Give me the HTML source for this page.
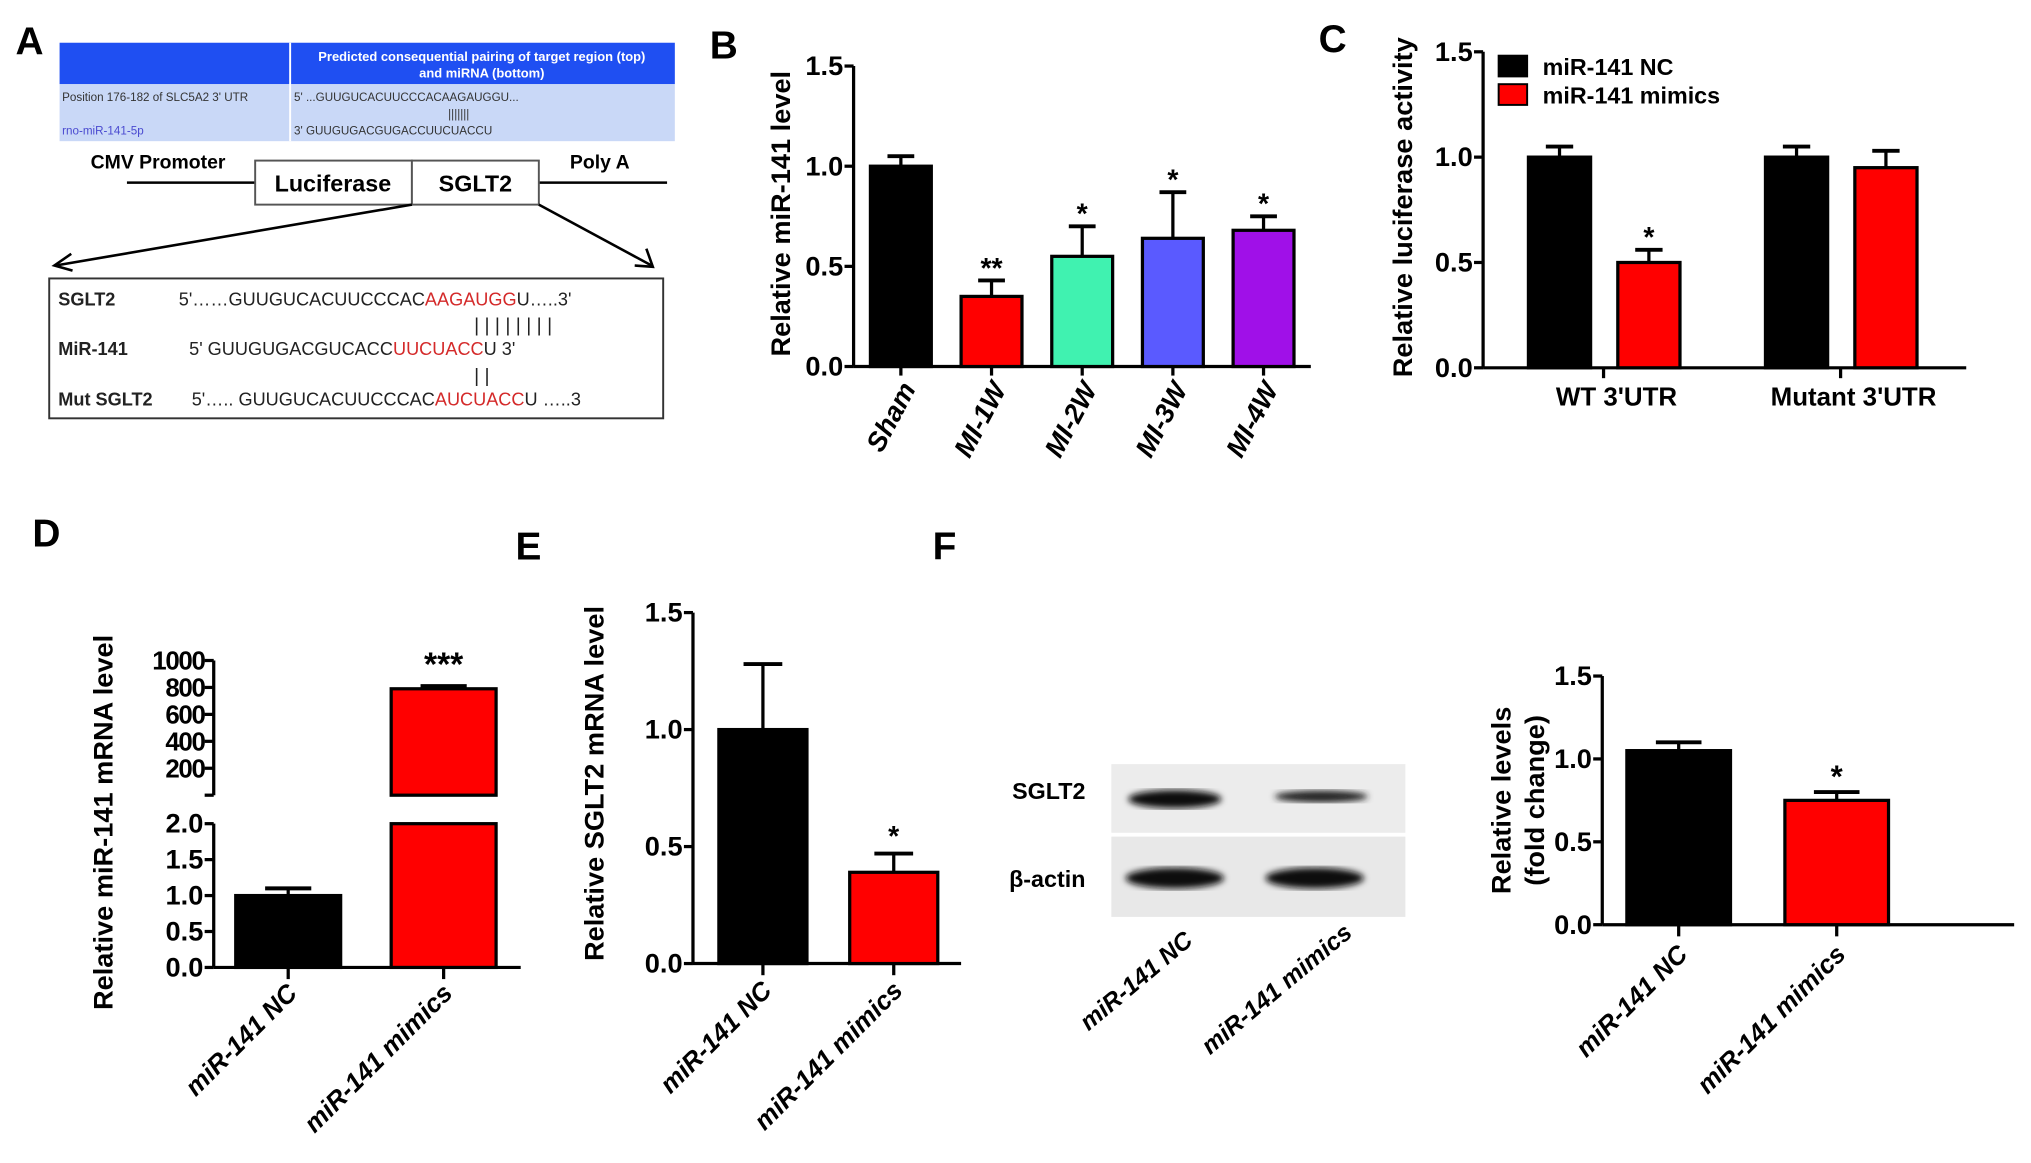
<!DOCTYPE html>
<html><head><meta charset="utf-8"><style>
html,body{margin:0;padding:0;background:#fff;}
svg{display:block;font-family:"Liberation Sans",Arial,sans-serif;}
.b{font-weight:bold;}
</style></head><body>
<svg id="fig" width="2031" height="1163" viewBox="0 0 1568 898" preserveAspectRatio="none" xmlns="http://www.w3.org/2000/svg">
<!-- Panel A -->
<g>
<text x="12" y="42" class="b" font-size="30">A</text>
<rect x="46" y="33" width="475" height="32" fill="#1f4ff2"/>
<rect x="46" y="65" width="475" height="44" fill="#c9d8f7"/>
<line x1="224" y1="33" x2="224" y2="109" stroke="#fff" stroke-width="1.5"/>
<text x="372" y="47" font-size="10" fill="#fff" text-anchor="middle" class="b">Predicted consequential pairing of target region (top)</text>
<text x="372" y="60" font-size="10" fill="#fff" text-anchor="middle" class="b">and miRNA (bottom)</text>
<text x="48" y="78" font-size="9" fill="#333">Position 176-182 of SLC5A2 3' UTR</text>
<text x="227" y="78" font-size="9" fill="#333">5'   ...GUUGUCACUUCCCACAAGAUGGU...</text>
<text x="346" y="91" font-size="9" fill="#333">|||||||</text>
<text x="48" y="104" font-size="9" fill="#4a4ad0">rno-miR-141-5p</text>
<text x="227" y="104" font-size="9" fill="#333">3'          GUUGUGACGUGACCUUCUACCU</text>
<text x="70" y="130" font-size="15" class="b">CMV Promoter</text>
<text x="440" y="130" font-size="15" class="b">Poly A</text>
<line x1="98" y1="141" x2="197" y2="141" stroke="#000" stroke-width="2"/>
<line x1="416" y1="141" x2="515" y2="141" stroke="#000" stroke-width="2"/>
<rect x="197" y="124" width="121" height="34" fill="#fff" stroke="#555" stroke-width="1.5"/>
<rect x="318" y="124" width="98" height="34" fill="#fff" stroke="#555" stroke-width="1.5"/>
<text x="257" y="148" font-size="18" class="b" text-anchor="middle">Luciferase</text>
<text x="367" y="148" font-size="18" class="b" text-anchor="middle">SGLT2</text>
<line x1="318" y1="158" x2="43" y2="205" stroke="#000" stroke-width="2"/>
<polyline points="55,196 42,205 56,209" fill="none" stroke="#000" stroke-width="2"/>
<line x1="416" y1="158" x2="503" y2="205" stroke="#000" stroke-width="2"/>
<polyline points="490,205 504,206 499,192" fill="none" stroke="#000" stroke-width="2"/>
<rect x="38" y="215" width="474" height="108" fill="#fff" stroke="#333" stroke-width="1.5"/>
<g font-size="14" fill="#222">
<text x="45" y="236" class="b">SGLT2</text>
<text x="138" y="236">5'……GUUGUCACUUCCCAC<tspan fill="#d42a2a">AAGAUGG</tspan>U…..3'</text>
<text x="366" y="256" font-size="15">| |  | | | |  | |</text>
<text x="45" y="274" class="b">MiR-141</text>
<text x="146" y="274">5'       GUUGUGACGUCACC<tspan fill="#d42a2a">UUCUACC</tspan>U       3'</text>
<text x="366" y="295" font-size="15">|                  |</text>
<text x="45" y="313" class="b">Mut SGLT2</text>
<text x="148" y="313">5'….. GUUGUCACUUCCCAC<tspan fill="#d42a2a">AUCUACC</tspan>U …..3</text>
</g>
</g>
<text x="548" y="45" class="b" font-size="30">B</text>
<text x="1018" y="40" class="b" font-size="30">C</text>
<text x="25" y="422" class="b" font-size="30">D</text>
<text x="398" y="432" class="b" font-size="30">E</text>
<text x="720" y="432" class="b" font-size="30">F</text>
<!-- Western blot -->
<g>
<defs>
<filter id="blur"><feGaussianBlur stdDeviation="2.5"/></filter>
</defs>
<rect x="858" y="590" width="227" height="53" fill="#ececec"/>
<rect x="858" y="646" width="227" height="62" fill="#e8e8e8"/>
<ellipse cx="907" cy="617" rx="36" ry="7" fill="#111" filter="url(#blur)"/>
<ellipse cx="1020" cy="615" rx="36" ry="4.5" fill="#222" filter="url(#blur)"/>
<ellipse cx="907" cy="678" rx="38" ry="8" fill="#111" filter="url(#blur)"/>
<ellipse cx="1015" cy="678" rx="38" ry="8" fill="#111" filter="url(#blur)"/>
<text x="838" y="617" font-size="18" class="b" text-anchor="end">SGLT2</text>
<text x="838" y="685" font-size="18" class="b" text-anchor="end">β-actin</text>
<text transform="translate(922,728) rotate(-40)" font-size="19" class="b" font-style="italic" text-anchor="end">miR-141 NC</text>
<text transform="translate(1045,722) rotate(-40)" font-size="19" class="b" font-style="italic" text-anchor="end">miR-141 mimics</text>
</g>
<g id="charts"></g>
</svg>
<script>
// Panel B data
const bCats = ['Sham','MI-1W','MI-2W','MI-3W','MI-4W'];
const bVals = [1.0,0.35,0.55,0.64,0.68];
const bErr = [0.05,0.08,0.15,0.23,0.07];
const bSig = ['','**','*','*','*'];
const bTicks = [0,0.5,1.0,1.5];
// Panel C data
const cGroups = ["WT 3'UTR","Mutant 3'UTR"];
const cSeries = ['miR-141 NC','miR-141 mimics'];
const cNC = [1.0,1.0];
const cMim = [0.50,0.95];
const cErrNC = [0.05,0.05];
const cErrMim = [0.06,0.08];
const cSig = ['*',''];
const cTicks = [0,0.5,1.0,1.5];
// Panel D data
const dCats = ['miR-141 NC','miR-141 mimics'];
const dVals = [1.0,790];
const dErr = [0.1,20];
const dSig = ['','***'];
const dLowTicks = [0,0.5,1.0,1.5,2.0];
const dHighTicks = [200,400,600,800,1000];
// Panel E data
const eCats = ['miR-141 NC','miR-141 mimics'];
const eVals = [1.0,0.39];
const eErr = [0.28,0.08];
const eSig = ['','*'];
const eTicks = [0,0.5,1.0,1.5];
// Panel F data
const fCats = ['miR-141 NC','miR-141 mimics'];
const fVals = [1.05,0.75];
const fErr = [0.05,0.05];
const fSig = ['','*'];
const fTicks = [0,0.5,1.0,1.5];

const NS='http://www.w3.org/2000/svg';
const root=document.getElementById('charts');
function mk(tag,attrs,parent,txt){const e=document.createElementNS(NS,tag);for(const k in attrs)e.setAttribute(k,attrs[k]);if(txt!==undefined)e.textContent=txt;(parent||root).appendChild(e);return e;}
function lin(d0,d1,r0,r1){return v=>r0+(v-d0)/(d1-d0)*(r1-r0);}
function yAxis(g,x,y,ticks,fmt,yb){
  const ax=mk('line',{x1:x,y1:y(ticks[ticks.length-1]),x2:x,y2:yb,stroke:'#000','stroke-width':2.5},g);
  
  
  ticks.forEach(t=>{
    mk('line',{x1:x-7,y1:y(t),x2:x,y2:y(t),stroke:'#000','stroke-width':2.5},g);
    const tl=mk('text',{x:x-8,y:y(t)+7,'font-size':21,'font-weight':'bold','text-anchor':'end'},g,fmt(t));
    
    
  });
}
function xAxis(g,x0,x1,y){
  const a=mk('line',{x1:x0,y1:y,x2:x1,y2:y,stroke:'#000','stroke-width':2.5},g);
  
  
}
function bar(g,x,w,y,vTop,y0,color,errTop,name){
  const r=mk('rect',{x:x,y:y(vTop),width:w,height:y0-y(vTop),fill:color,stroke:'#000','stroke-width':2.5},g);
  
  
  const cx=x+w/2;
  mk('line',{x1:cx,y1:y(vTop),x2:cx,y2:y(errTop),stroke:'#000','stroke-width':2.5},g);
  const cap=mk('line',{x1:cx-w*0.22,y1:y(errTop),x2:cx+w*0.22,y2:y(errTop),stroke:'#000','stroke-width':3},g);
  
  
}
function sig(g,cx,yy,s,fs){
  if(!s)return;
  const t=mk('text',{x:cx,y:yy,'font-size':fs||22,'font-weight':'bold','text-anchor':'middle'},g,s);
  
  
}
function ytitle(g,x,y,lines){
  lines.forEach((l,i)=>{
    const t=mk('text',{transform:`translate(${x+i*26},${y}) rotate(-90)`,'font-size':21,'font-weight':'bold','text-anchor':'middle'},g,l);
    
    
  });
}
function rotLabel(g,x,y,s,ang,fs){
  const t=mk('text',{transform:`translate(${x},${y}) rotate(${ang})`,'font-size':fs||20,'font-weight':'bold','font-style':'italic','text-anchor':'end'},g,s);
  
  
}
const f1=v=>v.toFixed(1);

// ---- Panel B ----
(function(){
  const g=mk('g',{});
  
  
  const y=lin(0,1.5,283,51), ax=659, step=70, w=47, start=672;
  const colors=['#000','#ff0000','#40f2b0','#5a5aff','#a010e8'];
  yAxis(g,ax,y,bTicks,f1,283);
  xAxis(g,ax,1012,283);
  bCats.forEach((c,i)=>{
    const bx=start+i*step;
    bar(g,bx,w,y,bVals[i],283,colors[i],bVals[i]+bErr[i],'bar-'+c.toLowerCase());
    mk('line',{x1:bx+w/2,y1:283,x2:bx+w/2,y2:290,stroke:'#000','stroke-width':2.5},g);
    sig(g,bx+w/2,y(bVals[i]+bErr[i])-2,bSig[i]);
    rotLabel(g,bx+w/2+12,300,c,-62,21);
  });
  ytitle(g,610,165,['Relative miR-141 level']);
})();

// ---- Panel C ----
(function(){
  const g=mk('g',{});
  
  
  const y=lin(0,1.5,284,40), ax=1145, w=48;
  yAxis(g,ax,y,cTicks,f1,284);
  xAxis(g,ax,1518,284);
  const gx=[1180,1363];
  cGroups.forEach((c,i)=>{
    bar(g,gx[i],w,y,cNC[i],284,'#000',cNC[i]+cErrNC[i],'bar-nc-'+i);
    bar(g,gx[i]+69,w,y,cMim[i],284,'#ff0000',cMim[i]+cErrMim[i],'bar-mimics-'+i);
    sig(g,gx[i]+69+w/2,y(cMim[i]+cErrMim[i])-2,cSig[i]);
    const tx=gx[i]+58;
    mk('line',{x1:tx,y1:284,x2:tx,y2:292,stroke:'#000','stroke-width':2.5},g);
    const t=mk('text',{x:tx+10,y:313,'font-size':20,'font-weight':'bold','text-anchor':'middle'},g,c);
    
    
  });
  const lc=['#000','#ff0000'];
  cSeries.forEach((s,i)=>{
    const r=mk('rect',{x:1157,y:43+i*22,width:22,height:16,fill:lc[i],stroke:'#000','stroke-width':1.5},g);
    
    
    const t=mk('text',{x:1191,y:58+i*22,'font-size':18,'font-weight':'bold'},g,s);
    
    
  });
  ytitle(g,1090,160,['Relative luciferase activity']);
})();

// ---- Panel D (broken axis) ----
(function(){
  const g=mk('g',{});
  
  
  const yl=lin(0,2,747,636), yh=lin(0,1000,614,510), ax=165;
  yAxis(g,ax,yl,dLowTicks,f1,747);
  const up=mk('line',{x1:ax,y1:yh(1000),x2:ax,y2:614,stroke:'#000','stroke-width':2.5},g);
  
  
  mk('line',{x1:ax-7,y1:614,x2:ax,y2:614,stroke:'#000','stroke-width':2.5},g);
  dHighTicks.forEach(t=>{
    mk('line',{x1:ax-7,y1:yh(t),x2:ax,y2:yh(t),stroke:'#000','stroke-width':2.5},g);
    const tl=mk('text',{x:ax-7,y:yh(t)+7,'font-size':20,'font-weight':'bold','text-anchor':'end','letter-spacing':'-1'},g,String(t));
    
    
  });
  xAxis(g,ax,402,747);
  const bx=[182,302], w=81;
  dCats.forEach((c,i)=>{
    const v=dVals[i], e=v+dErr[i], cx=bx[i]+w/2;
    if(v<=2){
      bar(g,bx[i],w,yl,v,747,'#000',e,'bar-nc');
    } else {
      const r1=mk('rect',{x:bx[i],y:636,width:w,height:111,fill:'#ff0000',stroke:'#000','stroke-width':2.5},g);
      
      
      bar(g,bx[i],w,yh,v,614,'#ff0000',e,'bar-mimics-upper');
    }
    mk('line',{x1:cx,y1:747,x2:cx,y2:756,stroke:'#000','stroke-width':2.5},g);
    sig(g,cx,(v<=2?yl(e):yh(e))-8,dSig[i],26);
    rotLabel(g,cx+8,768,c,-45,20);
  });
  ytitle(g,87,635,['Relative miR-141 mRNA level']);
})();

// ---- Panel E ----
(function(){
  const g=mk('g',{});
  
  
  const y=lin(0,1.5,744,473), ax=535, w=68;
  yAxis(g,ax,y,eTicks,f1,744);
  xAxis(g,ax,742,744);
  const bx=[555,656];
  eCats.forEach((c,i)=>{
    const cx=bx[i]+w/2;
    bar(g,bx[i],w,y,eVals[i],744,i?'#ff0000':'#000',eVals[i]+eErr[i],'bar-'+(i?'mimics':'nc'));
    mk('line',{x1:cx,y1:744,x2:cx,y2:753,stroke:'#000','stroke-width':2.5},g);
    sig(g,cx,y(eVals[i]+eErr[i])-6,eSig[i]);
    rotLabel(g,cx+8,766,c,-45,20);
  });
  ytitle(g,466,605,['Relative SGLT2 mRNA level']);
})();

// ---- Panel F chart ----
(function(){
  const g=mk('g',{});
  
  
  const y=lin(0,1.5,714,522), ax=1237, w=80;
  yAxis(g,ax,y,fTicks,f1,714);
  xAxis(g,ax,1555,714);
  const bx=[1256,1378];
  fCats.forEach((c,i)=>{
    const cx=bx[i]+w/2;
    bar(g,bx[i],w,y,fVals[i],714,i?'#ff0000':'#000',fVals[i]+fErr[i],'bar-'+(i?'mimics':'nc'));
    mk('line',{x1:cx,y1:714,x2:cx,y2:723,stroke:'#000','stroke-width':2.5},g);
    sig(g,cx,y(fVals[i]+fErr[i])-4,fSig[i],24);
    rotLabel(g,cx+8,738,c,-45,20);
  });
  ytitle(g,1166,618,['Relative levels','(fold change)']);
})();
</script>
</body></html>
